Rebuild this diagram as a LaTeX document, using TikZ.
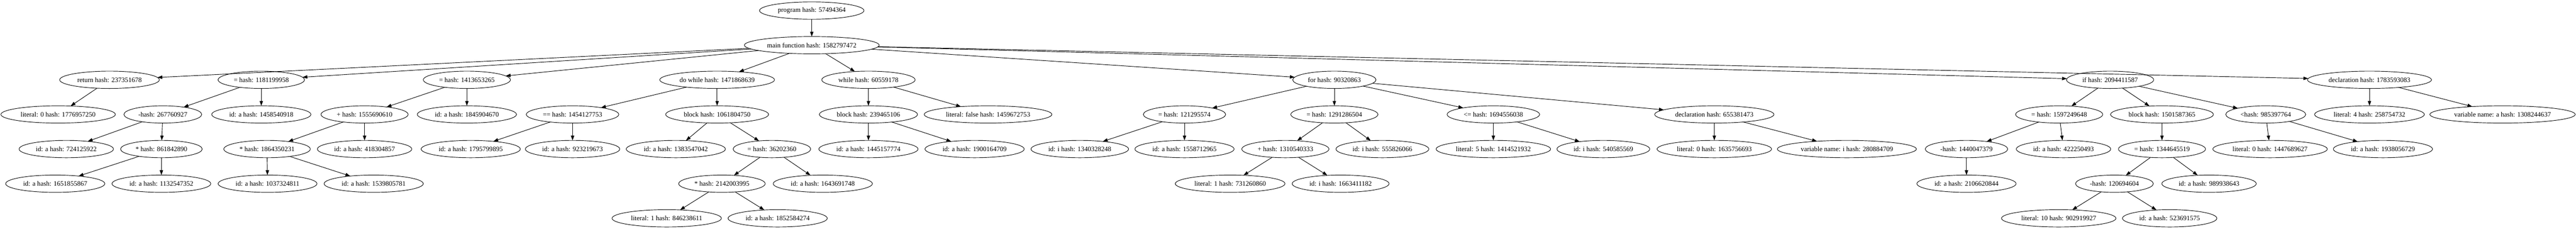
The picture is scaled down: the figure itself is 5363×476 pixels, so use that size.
\documentclass[tikz,border=0pt]{standalone}
\usepackage{fontspec}
\setmainfont{Liberation Serif}
\usetikzlibrary{shapes.geometric,arrows.meta}
\begin{document}
\begin{tikzpicture}[x=1pt,y=1pt,
  gv/.style={ellipse, draw, line width=1pt, inner xsep=6.3pt, inner ysep=2pt,
    minimum height=36pt, outer sep=0pt, font=\fontsize{14}{16}\selectfont},
  arr/.style={-{Triangle[length=10pt,width=7pt]}, line width=1pt}]
\fill[white] (0,0) rectangle (5363,476);
\useasboundingbox (0,0) rectangle (5363,476);
% row 0/1
\node[gv] (prog) at (1690,454) {program hash: 57494364};
\node[gv] (main) at (1690,382) {main function hash: 1582797472};
% return
\node[gv] (ret) at (228,310) {return hash: 237351678};
\node[gv] (lit0a) at (121,238) {literal: 0 hash: 1776957250};
% = A
\node[gv] (asgA) at (544,310) {= hash: 1181199958};
\node[gv] (subA) at (339,238) {-hash: 267760927};
\node[gv] (idA1) at (544,238) {id: a hash: 1458540918};
\node[gv] (idA2) at (138,166) {id: a hash: 724125922};
\node[gv] (mulA) at (336,166) {* hash: 861842890};
\node[gv] (idA3) at (115,94) {id: a hash: 1651855867};
\node[gv] (idA4) at (336,94) {id: a hash: 1132547352};
% = B
\node[gv] (asgB) at (972,310) {= hash: 1413653265};
\node[gv] (addB) at (759,238) {+ hash: 1555690610};
\node[gv] (idB1) at (972,238) {id: a hash: 1845904670};
\node[gv] (mulB) at (556,166) {* hash: 1864350231};
\node[gv] (idB2) at (759,166) {id: a hash: 418304857};
\node[gv] (idB3) at (557,94) {id: a hash: 1037324811};
\node[gv] (idB4) at (778,94) {id: a hash: 1539805781};
% do while
\node[gv] (dow) at (1493,310) {do while hash: 1471868639};
\node[gv] (eqC) at (1192,238) {== hash: 1454127753};
\node[gv] (blkC) at (1493,238) {block hash: 1061804750};
\node[gv] (idC1) at (980,166) {id: a hash: 1795799895};
\node[gv] (idC2) at (1192,166) {id: a hash: 923219673};
\node[gv] (idC3) at (1407,166) {id: a hash: 1383547042};
\node[gv] (asgC) at (1607,166) {= hash: 36202360};
\node[gv] (mulC) at (1503,94) {* hash: 2142003995};
\node[gv] (idC4) at (1713,94) {id: a hash: 1643691748};
\node[gv] (lit1C) at (1388,22) {literal: 1 hash: 846238611};
\node[gv] (idC5) at (1619,22) {id: a hash: 1852584274};
% while
\node[gv] (whl) at (1808,310) {while hash: 60559178};
\node[gv] (blkD) at (1808,238) {block hash: 239465106};
\node[gv] (litF) at (2057,238) {literal: false hash: 1459672753};
\node[gv] (idD1) at (1808,166) {id: a hash: 1445157774};
\node[gv] (idD2) at (2029,166) {id: a hash: 1900164709};
% for
\node[gv] (forE) at (2778,310) {for hash: 90320863};
\node[gv] (asgE1) at (2466,238) {= hash: 121295574};
\node[gv] (asgE2) at (2778,238) {= hash: 1291286504};
\node[gv] (leE) at (3109,238) {<= hash: 1694556038};
\node[gv] (decE) at (3569,238) {declaration hash: 655381473};
\node[gv] (idE1) at (2248,166) {id: i hash: 1340328248};
\node[gv] (idE2) at (2466,166) {id: a hash: 1558712965};
\node[gv] (addE) at (2676,166) {+ hash: 1310540333};
\node[gv] (idE3) at (2878,166) {id: i hash: 555826066};
\node[gv] (lit5E) at (3109,166) {literal: 5 hash: 1414521932};
\node[gv] (idE4) at (3338,166) {id: i hash: 540585569};
\node[gv] (lit0E) at (3569,166) {literal: 0 hash: 1635756693};
\node[gv] (varE) at (3845,166) {variable name: i hash: 280884709};
\node[gv] (lit1E) at (2561,94) {literal: 1 hash: 731260860};
\node[gv] (idE5) at (2791,94) {id: i hash: 1663411182};
% if
\node[gv] (ifF) at (4393,310) {if hash: 2094411587};
\node[gv] (asgF1) at (4287,238) {= hash: 1597249648};
\node[gv] (blkF) at (4501,238) {block hash: 1501587365};
\node[gv] (ltF) at (4717,238) {<hash: 985397764};
\node[gv] (subF1) at (4094,166) {-hash: 1440047379};
\node[gv] (idF1) at (4296,166) {id: a hash: 422250493};
\node[gv] (asgF2) at (4501,166) {= hash: 1344645519};
\node[gv] (lit0F) at (4726,166) {literal: 0 hash: 1447689627};
\node[gv] (idF2) at (4961,166) {id: a hash: 1938056729};
\node[gv] (idF3) at (4094,94) {id: a hash: 2106620844};
\node[gv] (subF2) at (4402,94) {-hash: 120694604};
\node[gv] (idF4) at (4599,94) {id: a hash: 989938643};
\node[gv] (lit10F) at (4286,22) {literal: 10 hash: 902919927};
\node[gv] (idF5) at (4517,22) {id: a hash: 523691575};
% declaration
\node[gv] (decG) at (4933,310) {declaration hash: 1783593083};
\node[gv] (lit4G) at (4933,238) {literal: 4 hash: 258754732};
\node[gv] (varG) at (5210,238) {variable name: a hash: 1308244637};
% edges
\draw[arr] (prog) -- (main);
\foreach \c in {ret,asgA,asgB,dow,whl,forE,ifF,decG} \draw[arr] (main) -- (\c);
\draw[arr] (ret) -- (lit0a);
\draw[arr] (asgA) -- (subA);
\draw[arr] (asgA) -- (idA1);
\draw[arr] (subA) -- (idA2);
\draw[arr] (subA) -- (mulA);
\draw[arr] (mulA) -- (idA3);
\draw[arr] (mulA) -- (idA4);
\draw[arr] (asgB) -- (addB);
\draw[arr] (asgB) -- (idB1);
\draw[arr] (addB) -- (mulB);
\draw[arr] (addB) -- (idB2);
\draw[arr] (mulB) -- (idB3);
\draw[arr] (mulB) -- (idB4);
\draw[arr] (dow) -- (eqC);
\draw[arr] (dow) -- (blkC);
\draw[arr] (eqC) -- (idC1);
\draw[arr] (eqC) -- (idC2);
\draw[arr] (blkC) -- (idC3);
\draw[arr] (blkC) -- (asgC);
\draw[arr] (asgC) -- (mulC);
\draw[arr] (asgC) -- (idC4);
\draw[arr] (mulC) -- (lit1C);
\draw[arr] (mulC) -- (idC5);
\draw[arr] (whl) -- (blkD);
\draw[arr] (whl) -- (litF);
\draw[arr] (blkD) -- (idD1);
\draw[arr] (blkD) -- (idD2);
\draw[arr] (forE) -- (asgE1);
\draw[arr] (forE) -- (asgE2);
\draw[arr] (forE) -- (leE);
\draw[arr] (forE) -- (decE);
\draw[arr] (asgE1) -- (idE1);
\draw[arr] (asgE1) -- (idE2);
\draw[arr] (asgE2) -- (addE);
\draw[arr] (asgE2) -- (idE3);
\draw[arr] (addE) -- (lit1E);
\draw[arr] (addE) -- (idE5);
\draw[arr] (leE) -- (lit5E);
\draw[arr] (leE) -- (idE4);
\draw[arr] (decE) -- (lit0E);
\draw[arr] (decE) -- (varE);
\draw[arr] (ifF) -- (asgF1);
\draw[arr] (ifF) -- (blkF);
\draw[arr] (ifF) -- (ltF);
\draw[arr] (asgF1) -- (subF1);
\draw[arr] (asgF1) -- (idF1);
\draw[arr] (subF1) -- (idF3);
\draw[arr] (blkF) -- (asgF2);
\draw[arr] (asgF2) -- (subF2);
\draw[arr] (asgF2) -- (idF4);
\draw[arr] (subF2) -- (lit10F);
\draw[arr] (subF2) -- (idF5);
\draw[arr] (ltF) -- (lit0F);
\draw[arr] (ltF) -- (idF2);
\draw[arr] (decG) -- (lit4G);
\draw[arr] (decG) -- (varG);
\end{tikzpicture}
\end{document}
